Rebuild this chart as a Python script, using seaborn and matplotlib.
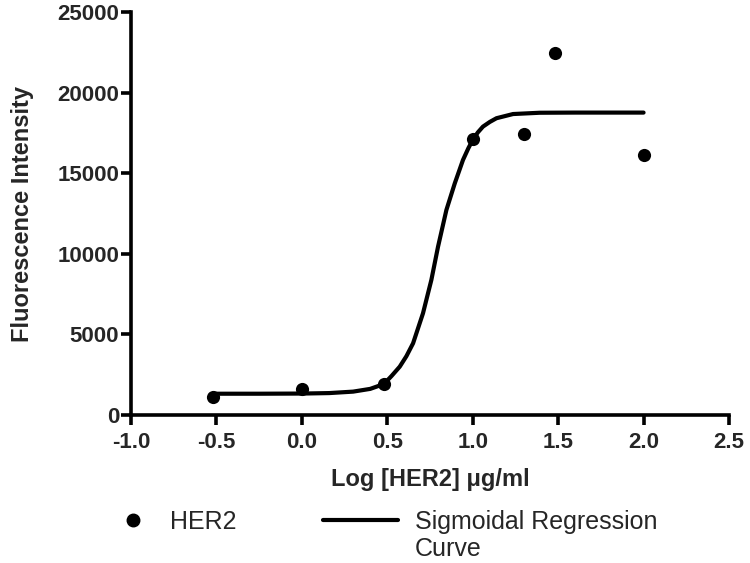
import numpy as np
import pandas as pd
import matplotlib
matplotlib.use('Agg')
import matplotlib.pyplot as plt
import seaborn as sns
from matplotlib.lines import Line2D

# measured points (log concentration vs fluorescence)
log_conc = [-0.52, 0.0, 0.48, 1.0, 1.30, 1.48, 2.0]
fluorescence = [1100, 1610, 1920, 17100, 17450, 22450, 16150]

# fitted sigmoid curve
curve_x = [-0.52, -0.25, 0.0, 0.16, 0.30, 0.40, 0.48, 0.525, 0.573, 0.612,
           0.651, 0.709, 0.758, 0.797, 0.846, 0.895, 0.943, 0.975, 1.002,
           1.03, 1.06, 1.10, 1.139, 1.236, 1.392, 1.6, 1.8, 2.0]
curve_y = [1320, 1320, 1330, 1360, 1450, 1620, 1920, 2420, 3000, 3650,
           4450, 6310, 8380, 10440, 12720, 14370, 15820, 16560, 17100,
           17530, 17890, 18180, 18410, 18670, 18750, 18760, 18760, 18760]

x_ticks = [-1.0, -0.5, 0.0, 0.5, 1.0, 1.5, 2.0, 2.5]
y_ticks = [0, 5000, 10000, 15000, 20000, 25000]

sns.set_style('ticks')
plt.rcParams['font.family'] = ['Liberation Sans', 'DejaVu Sans']

points = pd.DataFrame({'x': log_conc, 'y': fluorescence})
curve = pd.DataFrame({'x': curve_x, 'y': curve_y})

fig = plt.figure(figsize=(7.5, 5.63), dpi=100)
ax = fig.add_axes([131 / 750, 1 - 415 / 563, 598 / 750, 403 / 563])

sns.lineplot(data=curve, x='x', y='y', ax=ax, color='black', linewidth=3,
             zorder=2)
sns.scatterplot(data=points, x='x', y='y', ax=ax, color='black', s=90,
                edgecolor='black', linewidth=0, zorder=3)

ax.set_xlim(-1.0, 2.5)
ax.set_ylim(0, 25000)
ax.set_xticks(x_ticks)
ax.set_xticklabels([f'{t:.1f}' for t in x_ticks])
ax.set_yticks(y_ticks)
ax.set_yticklabels([str(t) for t in y_ticks])

for side in ['top', 'right']:
    ax.spines[side].set_visible(False)
for side in ['left', 'bottom']:
    ax.spines[side].set_linewidth(2.6)
    ax.spines[side].set_color('black')
ax.tick_params(axis='both', length=7, width=2.6, color='black', labelsize=16)
ax.tick_params(axis='x', pad=5)
ax.tick_params(axis='y', pad=1.5)
for lbl in ax.get_xticklabels() + ax.get_yticklabels():
    lbl.set_fontweight('bold')

ax.set_xlabel('Log [HER2] μg/ml', fontsize=17, fontweight='bold', labelpad=11)
ax.set_ylabel('Fluorescence Intensity', fontsize=17, fontweight='bold',
              labelpad=17)

# legend below the axes, two separate blocks
h1 = Line2D([], [], marker='o', color='black', linestyle='none',
            markersize=9)
h2 = Line2D([], [], color='black', linewidth=3)
blank = Line2D([], [], linestyle='none')
fig.legend([h1], ['HER2'], loc='upper left', bbox_to_anchor=(0.1607, 0.094),
           frameon=False, fontsize=18, handlelength=1.0, handletextpad=0.98,
           borderpad=0, borderaxespad=0)
fig.legend([h2, blank], ['Sigmoidal Regression', 'Curve'], loc='upper left',
           bbox_to_anchor=(0.4307, 0.094), frameon=False, fontsize=18,
           handlelength=3.0, handletextpad=0.68, borderpad=0, borderaxespad=0,
           labelspacing=0.1)

fig.savefig('out.png', dpi=100)
